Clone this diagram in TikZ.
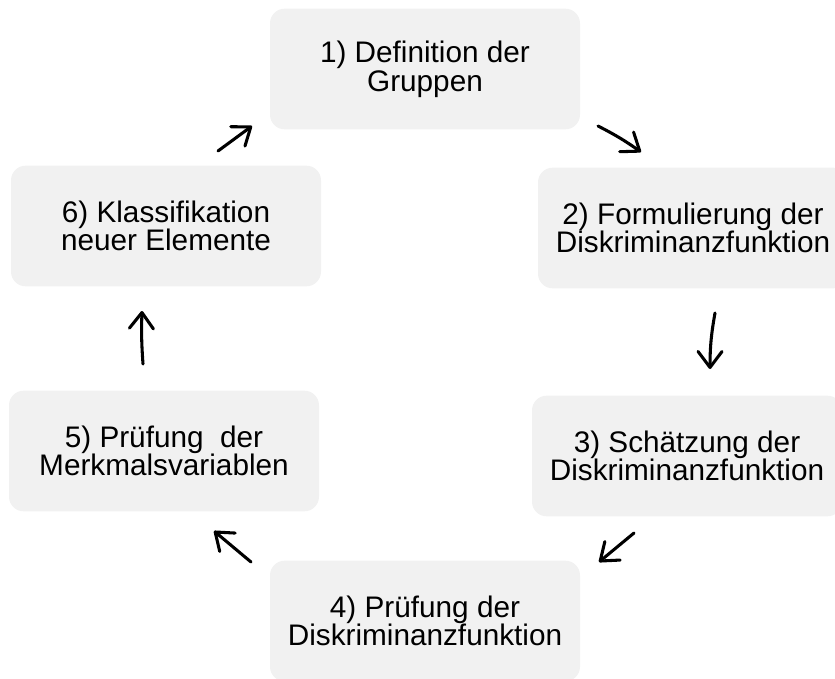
\documentclass[tikz,border=0pt]{standalone}
\usepackage{fontspec}
\setmainfont{Liberation Sans}
\usetikzlibrary{arrows.meta}

\definecolor{boxgray}{HTML}{F1F1F1}

\tikzset{
    stepbox/.style={fill=boxgray, rounded corners=11pt, inner sep=0pt,
        minimum width=232.5pt, minimum height=90.5pt, align=center,
        font=\fontsize{22.3}{21.5}\selectfont},
    arr/.style={line width=2.3pt, line cap=round,
        -{Straight Barb[length=12pt,width=18pt,line cap=round,line join=round]}}
}

\begin{document}
\begin{tikzpicture}[x=0.75pt,y=-0.75pt]
    \useasboundingbox (0,0) rectangle (835,678);
    \clip (0,0) rectangle (835,678);

    % the six steps
    \node[stepbox] (def) at (425,69) {1) Definition der\\Gruppen};
    \node[stepbox] (form) at (693,228) {2) Formulierung der\\Diskriminanzfunktion};
    \node[stepbox] (schaetz) at (687,456) {3) Schätzung der\\Diskriminanzfunktion};
    \node[stepbox] (pruefDF) at (425,621) {4) Prüfung der\\Diskriminanzfunktion};
    \node[stepbox] (pruefMV) at (164,451) {5) Prüfung\ \ der\\Merkmalsvariablen};
    \node[stepbox] (klass) at (166,226) {6) Klassifikation\\neuer Elemente};

    % arrow ends
    \coordinate (a1s) at (598,126);  \coordinate (a1e) at (641,152);
    \coordinate (a2s) at (715,313);  \coordinate (a2e) at (710,369);
    \coordinate (a3s) at (634,533);  \coordinate (a3e) at (599,562);
    \coordinate (a4s) at (251,562);  \coordinate (a4e) at (214,531);
    \coordinate (a5s) at (143,364);  \coordinate (a5e) at (142,311);
    \coordinate (a6s) at (218,151);  \coordinate (a6e) at (252,126);

    % cycle
    \draw[arr] (a1s) to[bend left=4] (a1e);
    \draw[arr] (a2s) to[bend right=5] (a2e);
    \draw[arr] (a3s) -- (a3e);
    \draw[arr] (a4s) -- (a4e);
    \draw[arr] (a5s) to[bend left=3] (a5e);
    \draw[arr] (a6s) -- (a6e);

\end{tikzpicture}
\end{document}
